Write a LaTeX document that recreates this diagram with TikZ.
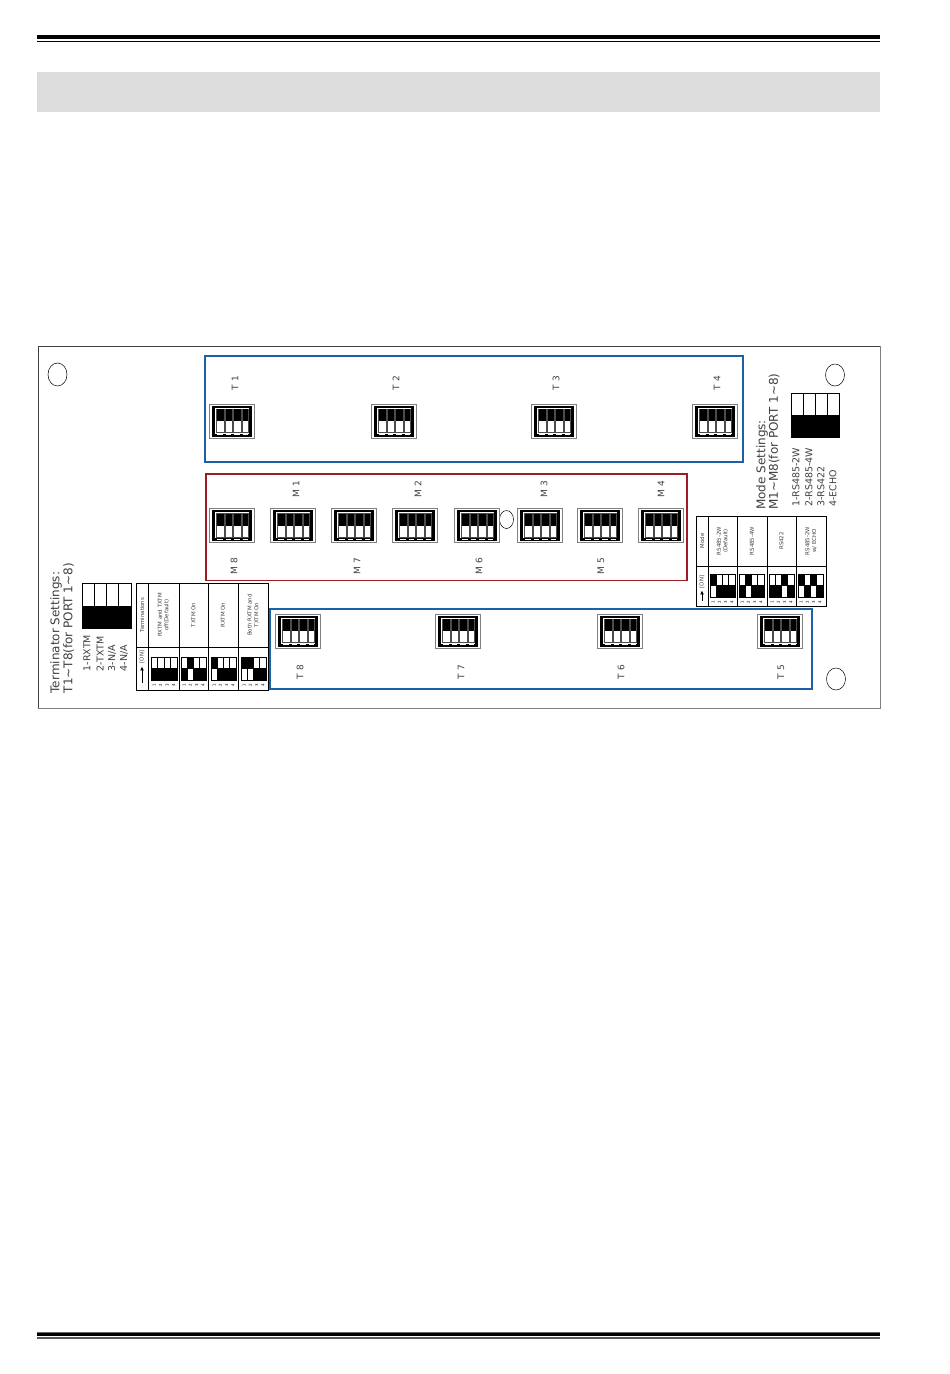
\documentclass[tikz,border=0pt]{standalone}
\usepackage{fontspec}
\usetikzlibrary{arrows.meta}
\setmainfont{DejaVu Sans}
\definecolor{bandgray}{HTML}{DCDCDC}
\definecolor{bluebox}{HTML}{1F5FA8}
\definecolor{redbox}{HTML}{9E1B2A}
\definecolor{lbl}{HTML}{404040}
\newcommand{\dipsw}[2]{%
\begin{scope}[shift={(#1,#2)}]
\draw[draw=gray,fill=white,line width=.8pt] (0,0) rectangle (45,34);
\draw[black,fill=white,line width=2.2pt] (4.5,2.8) rectangle (41.5,31.5);
\foreach \xa/\xb in {7.5/15,16/23.5,24.5/32,33/39.5}{
  \draw[black!70,fill=white,line width=.7pt] (\xa,5) rectangle (\xb,28.5);
  \fill[black] ({\xa+.5},5) rectangle ({\xb-.5},17);
}
\fill[black] (4.5,29.5) rectangle (41.5,32.5);
\foreach \xa in {8,16.5,25,33.5}{\draw[white,line width=.5pt] (\xa,30.7) -- ++(5.5,0);}
\end{scope}}
% small DIP cell: x,y, list of flipped columns flags
\newcommand{\smalldip}[7]{%
\begin{scope}[shift={(#1,#2)}]
\foreach \c/\f in {0/#3,1/#4,2/#5,3/#6}{
  \pgfmathsetmacro{\xa}{\c*#7/4}
  \pgfmathsetmacro{\xb}{(\c+1)*#7/4}
  \ifnum\f=0
    \fill[black] (\xa,11.5) rectangle (\xb,23);
    \draw[black,line width=.6pt] (\xa,0) rectangle (\xb,11.5);
  \else
    \fill[black] (\xa,0) rectangle (\xb,11.5);
    \draw[black,line width=.6pt] (\xa,11.5) rectangle (\xb,23);
  \fi
}
\draw[black,line width=.6pt] (0,0) rectangle (#7,23);
\foreach \c/\t in {0/1,1/2,2/3,3/4}{
  \pgfmathsetmacro{\xa}{(\c+.5)*#7/4}
  \node[tinytxt,rotate=90] at (\xa,28) {\t};
}
\end{scope}}
\tikzset{
 x=1pt,y=-1pt,
 sectionbox/.style={line width=1.4pt},
 boardlabel/.style={rotate=90,text=lbl,font=\fontsize{9}{10}\selectfont,inner sep=0pt},
 headtxt/.style={rotate=90,anchor=west,text=lbl,font=\fontsize{12}{14}\selectfont,inner sep=0pt},
 listtxt/.style={rotate=90,anchor=west,text=lbl,font=\fontsize{9.5}{11}\selectfont,inner sep=0pt},
 tabletxt/.style={rotate=90,text=lbl,align=center,font=\fontsize{5.4}{6.6}\selectfont,inner sep=0pt},
 tinytxt/.style={text=black,font=\fontsize{4}{5}\selectfont,inner sep=0pt},
 hole/.style={draw=black,line width=.5pt,fill=white},
 onarrow/.style={black,line width=.9pt,-{Latex[length=4pt,width=4pt]}},
}
\begin{document}
\begin{tikzpicture}
\useasboundingbox (0,0) rectangle (950,1374);
% page furniture
\fill[black] (37,35) rectangle (880,39.2);
\draw[black,line width=.9pt] (37,41) -- (880,41);
\fill[bandgray] (37,72) rectangle (880,112);
\fill[black!60] (37,1332) rectangle (880,1333);
\fill[black] (37,1333) rectangle (880,1336.4);
\fill[black!65] (37,1337) rectangle (880,1339);
% board
\fill[white] (38,346) rectangle (880,708);
\draw[gray,line width=1pt] (880,346) -- (880,708) -- (38,708);
\draw[black!75,line width=.8pt] (38,708) -- (38,346) -- (880,346);
% mounting holes
\draw[hole] (57.5,374.5) ellipse (9.5 and 11.5);
\draw[hole] (835,375) ellipse (9.5 and 11);
\draw[hole] (836,679) ellipse (9.5 and 11);
\draw[hole] (506.5,519.5) ellipse (7 and 9);
% coloured group frames
\draw[sectionbox,bluebox] (205,356) rectangle (743,462);
\draw[sectionbox,redbox] (206,474) rectangle (687,580.5);
\draw[sectionbox,bluebox] (270,609) rectangle (812,689);
% switches
\foreach \x in {209,371,531,692}{\dipsw{\x}{404}}
\foreach \x in {209,270,331,392,454,517,577,638}{\dipsw{\x}{508.5}}
\foreach \x in {275,435,597,757}{\dipsw{\x}{614}}
% switch labels
\foreach \n/\x/\t in {lt1/235/T 1,lt2/396/T 2,lt3/556/T 3,lt4/717/T 4}{\node[boardlabel] (\n) at (\x,383) {\t};}
\foreach \n/\x/\t in {lm1/296/M 1,lm2/418/M 2,lm3/544/M 3,lm4/661/M 4}{\node[boardlabel] (\n) at (\x,489) {\t};}
\foreach \n/\x/\t in {lm8/234/M 8,lm7/357/M 7,lm6/479/M 6,lm5/601/M 5}{\node[boardlabel] (\n) at (\x,566) {\t};}
\foreach \n/\x/\t in {lt8/300/T 8,lt7/461/T 7,lt6/621/T 6,lt5/781/T 5}{\node[boardlabel] (\n) at (\x,672) {\t};}
% terminator legend
\node[headtxt] (tmh1) at (56,693.5) {Terminator Settings:};
\node[headtxt] (tmh2) at (68.5,693.5) {T1\char"223C T8(for PORT 1\char"223C 8)};
\fill[black] (82,606) rectangle (131,628);
\draw[black,line width=.6pt] (82,583) rectangle (131,628);
\foreach \x in {94,106.5,118.5}{\draw[black,line width=.5pt] (\x,583) -- (\x,606);}
\node[listtxt] (tm1) at (87,671.5) {1-RXTM};
\node[listtxt] (tm2) at (100,671.5) {2-TXTM};
\node[listtxt] (tm3) at (112,671.5) {3-N/A};
\node[listtxt] (tm4) at (124,671.5) {4-N/A};
% terminator table
\draw[black,line width=.8pt] (136,583) rectangle (268,690);
\draw[black,line width=.8pt] (136,647) -- (268,647);
\foreach \x in {148,179,208,238}{\draw[black,line width=.8pt] (\x,583) -- (\x,690);}
\node[tabletxt] (tt0) at (142,615) {Terminations};
\node[tabletxt] (tt1) at (163.5,615) {RXTM and TXTM\\off(Default)};
\node[tabletxt] (tt2) at (193.5,615) {TXTM On};
\node[tabletxt] (tt3) at (223,615) {RXTM On};
\node[tabletxt] (tt4) at (253,615) {Both RXTM and\\TXTM On};
\node[tabletxt] (tton) at (142,657) {[ON]};
\coordinate (ttarrow) at (142,683);
\draw[onarrow] (ttarrow) -- ([yshift=-3pt]tton.west);
\smalldip{151}{657}{0}{0}{0}{0}{26}
\smalldip{181}{657}{0}{1}{0}{0}{25}
\smalldip{211}{657}{1}{0}{0}{0}{25}
\smalldip{241}{657}{1}{1}{0}{0}{25}
% mode legend
\node[headtxt] (mdh1) at (762,510) {Mode Settings:};
\node[headtxt] (mdh2) at (774,510) {M1\char"223C M8(for PORT 1\char"223C 8)};
\fill[black] (791,415) rectangle (839,437);
\draw[black,line width=.6pt] (791,393) rectangle (839,437);
\foreach \x in {803,815,827}{\draw[black,line width=.5pt] (\x,393) -- (\x,415);}
\node[listtxt] (md1) at (796,507) {1-RS485-2W};
\node[listtxt] (md2) at (809,507) {2-RS485-4W};
\node[listtxt] (md3) at (821,507) {3-RS422};
\node[listtxt] (md4) at (833,507) {4-ECHO};
% mode table
\draw[black,line width=.8pt] (696,516) rectangle (826,606);
\draw[black,line width=.8pt] (696,566) -- (826,566);
\foreach \x in {708,737,767,796}{\draw[black,line width=.8pt] (\x,516) -- (\x,606);}
\node[tabletxt] (mt0) at (702,541) {Mode};
\node[tabletxt] (mt1) at (722.5,541) {RS485-2W\\(Default)};
\node[tabletxt] (mt2) at (752,541) {RS485-4W};
\node[tabletxt] (mt3) at (781.5,541) {RS422};
\node[tabletxt] (mt4) at (811,541) {RS485-2W\\w/ ECHO};
\node[tabletxt] (mton) at (702,582) {[ON]};
\coordinate (mtarrow) at (702,601);
\draw[onarrow] (mtarrow) -- ([yshift=-2pt]mton.west);
\smalldip{710}{574}{1}{0}{0}{0}{25}
\smalldip{739}{574}{0}{1}{0}{0}{25}
\smalldip{769}{574}{0}{0}{1}{0}{25}
\smalldip{798}{574}{1}{0}{1}{0}{25}
\end{tikzpicture}
\end{document}
